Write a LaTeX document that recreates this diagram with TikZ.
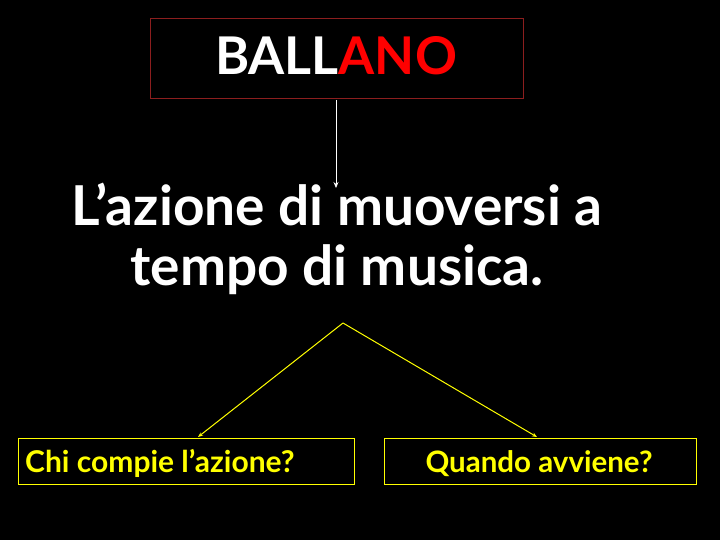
\documentclass[tikz,border=0pt]{standalone}
\usepackage{fontspec}
\setmainfont{Lato}
\usetikzlibrary{arrows.meta}
\definecolor{boxred}{RGB}{140,30,30}
\definecolor{yel}{RGB}{255,255,0}
\begin{document}
\begin{tikzpicture}[x=1pt,y=-1pt,
  topbox/.style={draw=boxred,line width=0.8pt,minimum width=373pt,minimum height=80pt,inner sep=0pt},
  qbox/.style={draw=yel,line width=0.8pt,minimum height=46pt,inner sep=0pt},
  yline/.style={draw=yel,line width=1pt,-{Stealth[length=5pt,width=4pt]}}]
\fill[black] (0,0) rectangle (720,540);
\useasboundingbox (0,0) rectangle (720,540);
\node[topbox] (title) at (336.5,58) {};
\node[font=\fontsize{52}{60}\selectfont\bfseries,anchor=base] (tt) at (336,75) {\textcolor{white}{BALL}\textcolor{red}{ANO}};
\node[text=white,font=\fontsize{55}{60}\selectfont\bfseries,align=center,anchor=base] (def) at (337,285) {L’azione di muoversi a\\tempo di musica.};
\coordinate (apex) at (343,323);
\draw[white,line width=0.8pt,-{Stealth[length=6pt,width=5pt]}] (336,100) -- (336,188);
\node[qbox,minimum width=336pt] (chi) at (186,461) {};
\node[text=yel,font=\fontsize{30}{32}\selectfont\bfseries,anchor=base west,inner sep=0pt] at (25,472) {Chi compie l’azione?};
\node[qbox,minimum width=312pt] (quando) at (540,461) {};
\node[text=yel,font=\fontsize{29.5}{32}\selectfont\bfseries,anchor=base,inner sep=0pt] at (539,472) {Quando avviene?};
\draw[yline] (apex) -- (198,437);
\draw[yline] (apex) -- (537,437);
\end{tikzpicture}
\end{document}
